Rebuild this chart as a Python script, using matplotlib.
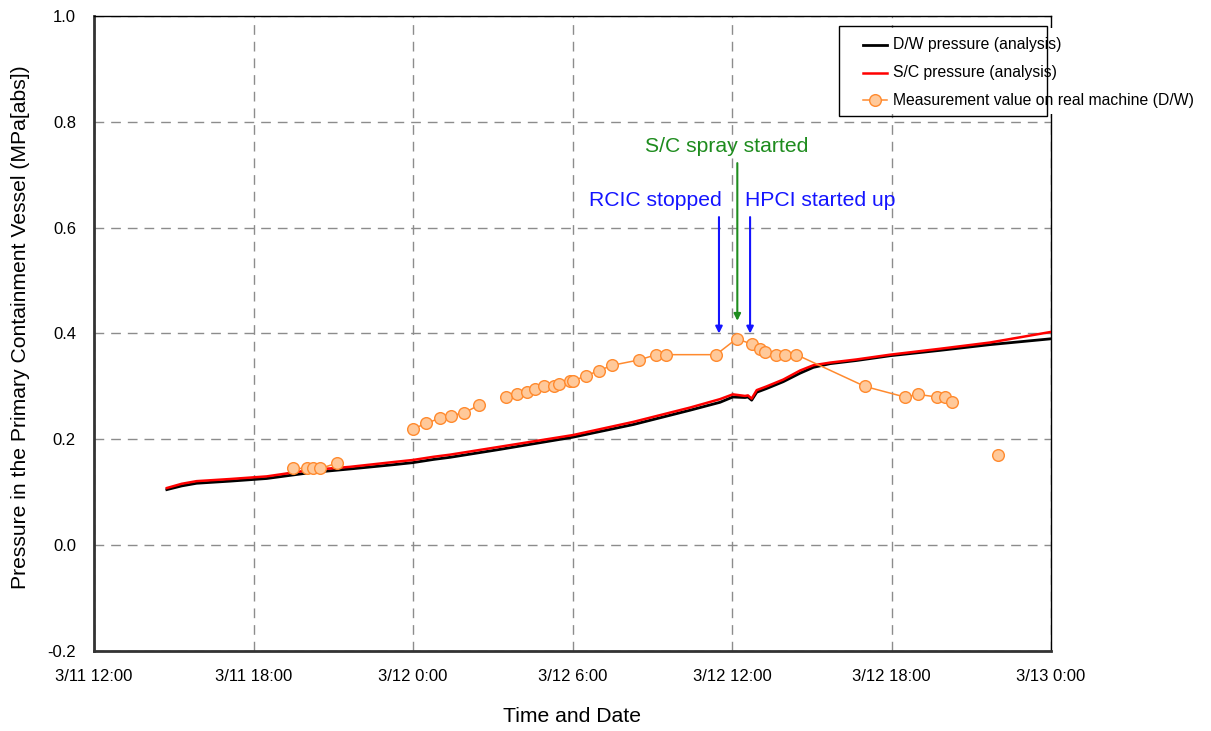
import matplotlib
matplotlib.use("Agg")
import matplotlib.pyplot as plt
import numpy as np
from matplotlib.patches import Rectangle
from matplotlib.lines import Line2D

plt.rcParams["font.family"] = ["Liberation Sans", "DejaVu Sans"]
plt.rcParams["axes.unicode_minus"] = False

# Time axis: hours elapsed since 3/11 12:00
x_ticks = [0, 6, 12, 18, 24, 30, 36]
x_tick_labels = ["3/11 12:00", "3/11 18:00", "3/12 0:00", "3/12 6:00",
                 "3/12 12:00", "3/12 18:00", "3/13 0:00"]
y_ticks = [-0.2, 0.0, 0.2, 0.4, 0.6, 0.8, 1.0]
y_tick_labels = ["-0.2", "0.0", "0.2", "0.4", "0.6", "0.8", "1.0"]

# S/C pressure (analysis)
sc_hours = [2.74, 3.3, 3.86, 5.12, 6.5, 8.13, 9.63, 11.25, 12.0, 12.77, 13.39,
            15.27, 18.01, 20.29, 22.42, 23.55, 24.03, 24.49, 24.6, 24.74,
            24.93, 25.3, 25.93, 26.56, 27.06, 27.69, 28.69, 29.95, 31.8,
            33.71, 36.0]
sc_pressure = [0.108, 0.116, 0.121, 0.125, 0.130, 0.142, 0.148, 0.157, 0.161,
               0.167, 0.171, 0.186, 0.208, 0.233, 0.260, 0.276, 0.285, 0.282,
               0.283, 0.277, 0.293, 0.300, 0.313, 0.330, 0.340, 0.345, 0.351,
               0.360, 0.371, 0.383, 0.403]

# D/W pressure (analysis)
dw_hours = [2.74, 3.3, 3.86, 5.12, 6.5, 8.13, 9.63, 11.25, 12.0, 12.77, 13.39,
            15.27, 18.01, 20.29, 22.42, 23.55, 24.03, 24.49, 24.6, 24.74,
            24.93, 25.3, 25.93, 26.56, 27.06, 27.69, 28.69, 29.95, 31.8,
            33.71, 36.0]
dw_pressure = [0.105, 0.112, 0.117, 0.121, 0.126, 0.137, 0.144, 0.152, 0.156,
               0.162, 0.166, 0.181, 0.204, 0.228, 0.255, 0.270, 0.280, 0.279,
               0.280, 0.274, 0.289, 0.296, 0.309, 0.325, 0.336, 0.343, 0.349,
               0.358, 0.368, 0.379, 0.390]

# Measured D/W pressure; NaN separates unconnected groups
meas_hours = [7.5, 8.0, 8.25, 8.5, 9.15, np.nan,
              12.0, 12.5, 13.0, 13.42, 13.92, 14.5, np.nan,
              15.5, 15.92, 16.3, 16.58, 16.92, 17.32, 17.5, 17.92, 18.0,
              18.5, 19.0, 19.5, 20.5, 21.15, 21.5, 23.4, 24.17, 24.75,
              25.07, 25.25, 25.65, 26.0, 26.42, 29.0, 30.5, 31.0, 31.7,
              32.03, 32.28, np.nan,
              34.0]
meas_pressure = [0.145, 0.145, 0.145, 0.145, 0.155, np.nan,
                 0.22, 0.23, 0.24, 0.245, 0.25, 0.265, np.nan,
                 0.28, 0.285, 0.29, 0.295, 0.30, 0.30, 0.305, 0.31, 0.31,
                 0.32, 0.33, 0.34, 0.35, 0.36, 0.36, 0.36, 0.39, 0.38,
                 0.37, 0.365, 0.36, 0.36, 0.36, 0.30, 0.28, 0.285, 0.28,
                 0.28, 0.27, np.nan,
                 0.17]

# Event annotations
rcic_stop_hour = 23.51
spray_start_hour = 24.2
hpci_start_hour = 24.68

W, H = 1211, 731
fig = plt.figure(figsize=(W / 100, H / 100), dpi=100)
ax = fig.add_axes([94 / W, 1 - 651 / H, (1051 - 94) / W, (651 - 16) / H])

orange = "#FF8A2E"
peach = "#FFC99A"

ax.plot(dw_hours, dw_pressure, color="black", lw=2.0, zorder=3)
ax.plot(sc_hours, sc_pressure, color="#FF0000", lw=1.8, zorder=4)
ax.plot(meas_hours, meas_pressure, color=orange, lw=1.1, marker="o",
        markersize=8.4, markerfacecolor=peach, markeredgecolor=orange,
        markeredgewidth=1.0, zorder=5)

ax.set_xlim(0, 36)
ax.set_ylim(-0.2, 1.0)
ax.set_xticks(x_ticks)
ax.set_xticklabels(x_tick_labels, fontsize=12)
ax.set_yticks(y_ticks)
ax.set_yticklabels(y_tick_labels, fontsize=12)
ax.tick_params(axis="both", length=0)
ax.tick_params(axis="x", pad=13)
ax.tick_params(axis="y", pad=13)

ax.grid(True, color="#8C8C8C", linestyle=(0, (7, 5)), linewidth=1.0, zorder=1)
ax.set_axisbelow(True)

for side in ("left", "bottom"):
    ax.spines[side].set_linewidth(2.0)
    ax.spines[side].set_color("#333333")
for side in ("top", "right"):
    ax.spines[side].set_linewidth(1.0)
    ax.spines[side].set_color("black")

fig.text(21 / W, 1 - 327 / H,
         "Pressure in the Primary Containment Vessel (MPa[abs])",
         rotation=90, ha="center", va="center", fontsize=15.2)
fig.text(572 / W, 1 - 717 / H, "Time and Date", ha="center", va="center",
         fontsize=15.2)

# Event arrows and labels
blue = "#1414FF"
green = "#1E8C1E"
arrow_kw = dict(arrowstyle="-|>", lw=1.5, mutation_scale=10,
                shrinkA=0, shrinkB=0)
ax.annotate("", xy=(rcic_stop_hour, 0.400), xytext=(rcic_stop_hour, 0.620),
            arrowprops=dict(color=blue, **arrow_kw), zorder=6)
ax.annotate("", xy=(spray_start_hour, 0.424), xytext=(spray_start_hour, 0.722),
            arrowprops=dict(color=green, **arrow_kw), zorder=6)
ax.annotate("", xy=(hpci_start_hour, 0.400), xytext=(hpci_start_hour, 0.620),
            arrowprops=dict(color=blue, **arrow_kw), zorder=6)
ax.text(23.61, 0.652, "RCIC stopped", color=blue, fontsize=15.2,
        ha="right", va="center")
ax.text(24.49, 0.652, "HPCI started up", color=blue, fontsize=15.2,
        ha="left", va="center")
ax.text(23.8, 0.754, "S/C spray started", color=green, fontsize=15.2,
        ha="center", va="center")


# Legend box drawn in figure space
def fx(px):
    return px / W


def fy(py):
    return 1 - py / H


# white backing that also hides the right spine behind the legend
fig.patches.append(Rectangle((fx(839), fy(114)), fx(1056) - fx(839),
                             fy(28) - fy(114), transform=fig.transFigure,
                             facecolor="white", edgecolor="none", zorder=9))
fig.patches.append(Rectangle((fx(839), fy(116)), fx(1047) - fx(839),
                             fy(26) - fy(116), transform=fig.transFigure,
                             facecolor="none", edgecolor="black", lw=1.0,
                             zorder=10))
legend_rows = [
    ("D/W pressure (analysis)", dict(color="black", lw=2.0)),
    ("S/C pressure (analysis)", dict(color="#FF0000", lw=1.8)),
    ("Measurement value on real machine (D/W)",
     dict(color=orange, lw=1.1, marker="o", markersize=8.4,
          markerfacecolor=peach, markeredgecolor=orange,
          markeredgewidth=1.0, markevery=[1])),
]
row_y = [45, 72.5, 100]
for (label, style), py in zip(legend_rows, row_y):
    fig.lines.append(Line2D([fx(863), fx(875), fx(887)], [fy(py)] * 3,
                            transform=fig.transFigure, zorder=11, **style))
    fig.text(fx(893), fy(py), label, fontsize=11.3, ha="left", va="center",
             zorder=12)

fig.savefig("out.png", dpi=100)
